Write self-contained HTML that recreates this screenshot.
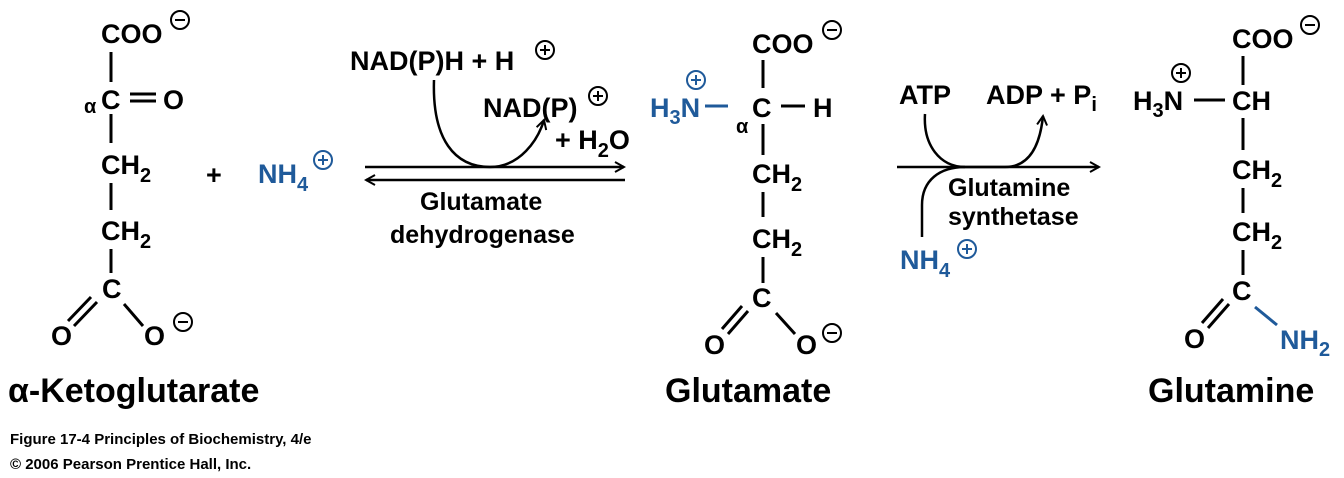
<!DOCTYPE html>
<html><head><meta charset="utf-8"><style>
html,body{margin:0;padding:0;background:#fff;}
svg{display:block;}
text{font-family:"Liberation Sans",sans-serif;font-weight:bold;}
</style></head><body>
<svg width="1344" height="478" viewBox="0 0 1344 478" xmlns="http://www.w3.org/2000/svg">
<defs>
<marker id="ah" markerWidth="12" markerHeight="12" refX="10" refY="6" orient="auto" markerUnits="userSpaceOnUse">
<path d="M1,1 L10,6 L1,11" fill="none" stroke="#000" stroke-width="2"/></marker>
</defs>
<g font-size="27" fill="#000" stroke="none">
<!-- alpha-ketoglutarate -->
<text x="101" y="43">COO</text>
<circle cx="180" cy="20" r="9" fill="none" stroke="#000" stroke-width="2"/><line x1="175" y1="20" x2="185" y2="20" stroke="#000" stroke-width="2"/>
<line x1="111" y1="52" x2="111" y2="82" stroke="#000" stroke-width="3"/>
<text x="84" y="113" font-size="20">α</text>
<text x="101" y="109">C</text>
<line x1="130" y1="94" x2="156" y2="94" stroke="#000" stroke-width="3"/>
<line x1="130" y1="101" x2="156" y2="101" stroke="#000" stroke-width="3"/>
<text x="163" y="109">O</text>
<line x1="111" y1="114" x2="111" y2="143" stroke="#000" stroke-width="3"/>
<text x="101" y="174">CH<tspan font-size="20" dy="8">2</tspan></text>
<line x1="111" y1="183" x2="111" y2="210" stroke="#000" stroke-width="3"/>
<text x="101" y="240">CH<tspan font-size="20" dy="8">2</tspan></text>
<line x1="111" y1="249" x2="111" y2="273" stroke="#000" stroke-width="3"/>
<text x="102" y="298">C</text>
<line x1="97" y1="302" x2="74" y2="326" stroke="#000" stroke-width="3"/>
<line x1="91" y1="297" x2="68" y2="321" stroke="#000" stroke-width="3"/>
<line x1="124" y1="304" x2="143" y2="326" stroke="#000" stroke-width="3"/>
<text x="51" y="345">O</text>
<text x="144" y="345">O</text>
<circle cx="183" cy="322" r="9" fill="none" stroke="#000" stroke-width="2"/><line x1="178" y1="322" x2="188" y2="322" stroke="#000" stroke-width="2"/>

<text x="206" y="184">+</text>
<text x="258" y="183" fill="#1f5a9a">NH<tspan font-size="20" dy="8">4</tspan></text>
<circle cx="323" cy="160" r="9" fill="none" stroke="#1f5a9a" stroke-width="2"/><path d="M318,160h10M323,155v10" stroke="#1f5a9a" stroke-width="2"/>

<!-- first arrow -->
<text x="350" y="70">NAD(P)H + H</text>
<circle cx="545" cy="50" r="9" fill="none" stroke="#000" stroke-width="2"/><path d="M540,50h10M545,45v10" stroke="#000" stroke-width="2"/>
<text x="483" y="117">NAD(P)</text>
<circle cx="598" cy="96" r="9" fill="none" stroke="#000" stroke-width="2"/><path d="M593,96h10M598,91v10" stroke="#000" stroke-width="2"/>
<text x="555" y="149">+ H<tspan font-size="20" dy="8">2</tspan><tspan dy="-8">O</tspan></text>
<line x1="365" y1="167" x2="624" y2="167" stroke="#000" stroke-width="2.5" marker-end="url(#ah)"/>
<line x1="625" y1="180" x2="366" y2="180" stroke="#000" stroke-width="2.5" marker-end="url(#ah)"/>
<path d="M434,80 C432,140 455,167 490,167 C520,167 538,140 544,120" fill="none" stroke="#000" stroke-width="2.5" marker-end="url(#ah)"/>
<text x="420" y="210" font-size="25">Glutamate</text>
<text x="390" y="243" font-size="25">dehydrogenase</text>

<!-- glutamate -->
<text x="752" y="53">COO</text>
<circle cx="832" cy="30" r="9" fill="none" stroke="#000" stroke-width="2"/><line x1="827" y1="30" x2="837" y2="30" stroke="#000" stroke-width="2"/>
<line x1="763" y1="60" x2="763" y2="88" stroke="#000" stroke-width="3"/>
<text x="650" y="117" fill="#1f5a9a">H<tspan font-size="20" dy="7">3</tspan><tspan dy="-7">N</tspan></text>
<circle cx="696" cy="80" r="9" fill="none" stroke="#1f5a9a" stroke-width="2"/><path d="M691,80h10M696,75v10" stroke="#1f5a9a" stroke-width="2"/>
<line x1="705" y1="106" x2="728" y2="106" stroke="#1f5a9a" stroke-width="3"/>
<text x="752" y="117">C</text>
<line x1="781" y1="106" x2="805" y2="106" stroke="#000" stroke-width="3"/>
<text x="813" y="117">H</text>
<text x="736" y="133" font-size="20">α</text>
<line x1="763" y1="124" x2="763" y2="155" stroke="#000" stroke-width="3"/>
<text x="752" y="183">CH<tspan font-size="20" dy="8">2</tspan></text>
<line x1="763" y1="192" x2="763" y2="217" stroke="#000" stroke-width="3"/>
<text x="752" y="248">CH<tspan font-size="20" dy="8">2</tspan></text>
<line x1="763" y1="257" x2="763" y2="283" stroke="#000" stroke-width="3"/>
<text x="752" y="307">C</text>
<line x1="748" y1="311" x2="728" y2="334" stroke="#000" stroke-width="3"/>
<line x1="742" y1="306" x2="722" y2="329" stroke="#000" stroke-width="3"/>
<line x1="776" y1="313" x2="795" y2="334" stroke="#000" stroke-width="3"/>
<text x="704" y="354">O</text>
<text x="796" y="354">O</text>
<circle cx="832" cy="333" r="9" fill="none" stroke="#000" stroke-width="2"/><line x1="827" y1="333" x2="837" y2="333" stroke="#000" stroke-width="2"/>

<!-- second arrow -->
<text x="899" y="104">ATP</text>
<text x="986" y="104">ADP + P<tspan font-size="20" dy="7">i</tspan></text>
<line x1="897" y1="167" x2="1099" y2="167" stroke="#000" stroke-width="2.5" marker-end="url(#ah)"/>
<path d="M925,114 C923,145 940,167 965,167 L1005,167 C1030,167 1040,145 1043,116" fill="none" stroke="#000" stroke-width="2.5" marker-end="url(#ah)"/>
<path d="M922,237 L922,205 C922,180 940,167 965,167" fill="none" stroke="#000" stroke-width="2.5"/>
<text x="948" y="196" font-size="25">Glutamine</text>
<text x="948" y="225" font-size="25">synthetase</text>
<text x="900" y="269" fill="#1f5a9a">NH<tspan font-size="20" dy="8">4</tspan></text>
<circle cx="967" cy="249" r="9" fill="none" stroke="#1f5a9a" stroke-width="2"/><path d="M962,249h10M967,244v10" stroke="#1f5a9a" stroke-width="2"/>

<!-- glutamine -->
<text x="1232" y="48">COO</text>
<circle cx="1310" cy="25" r="9" fill="none" stroke="#000" stroke-width="2"/><line x1="1305" y1="25" x2="1315" y2="25" stroke="#000" stroke-width="2"/>
<line x1="1243" y1="56" x2="1243" y2="85" stroke="#000" stroke-width="3"/>
<text x="1133" y="110">H<tspan font-size="20" dy="7">3</tspan><tspan dy="-7">N</tspan></text>
<circle cx="1181" cy="73" r="9" fill="none" stroke="#000" stroke-width="2"/><path d="M1176,73h10M1181,68v10" stroke="#000" stroke-width="2"/>
<line x1="1194" y1="100" x2="1225" y2="100" stroke="#000" stroke-width="3"/>
<text x="1232" y="110">CH</text>
<line x1="1243" y1="118" x2="1243" y2="150" stroke="#000" stroke-width="3"/>
<text x="1232" y="179">CH<tspan font-size="20" dy="8">2</tspan></text>
<line x1="1243" y1="188" x2="1243" y2="213" stroke="#000" stroke-width="3"/>
<text x="1232" y="241">CH<tspan font-size="20" dy="8">2</tspan></text>
<line x1="1243" y1="250" x2="1243" y2="275" stroke="#000" stroke-width="3"/>
<text x="1232" y="300">C</text>
<line x1="1229" y1="304" x2="1208" y2="328" stroke="#000" stroke-width="3"/>
<line x1="1223" y1="299" x2="1202" y2="323" stroke="#000" stroke-width="3"/>
<line x1="1255" y1="307" x2="1277" y2="325" stroke="#1f5a9a" stroke-width="3"/>
<text x="1184" y="348">O</text>
<text x="1280" y="349" fill="#1f5a9a">NH<tspan font-size="20" dy="7">2</tspan></text>

<!-- titles -->
<text x="8" y="402" font-size="34">α-Ketoglutarate</text>
<text x="665" y="402" font-size="34">Glutamate</text>
<text x="1148" y="402" font-size="34">Glutamine</text>
<text x="10" y="444" font-size="15">Figure 17-4  Principles of Biochemistry, 4/e</text>
<text x="10" y="469" font-size="15">© 2006 Pearson Prentice Hall, Inc.</text>
</g>
</svg>
</body></html>
